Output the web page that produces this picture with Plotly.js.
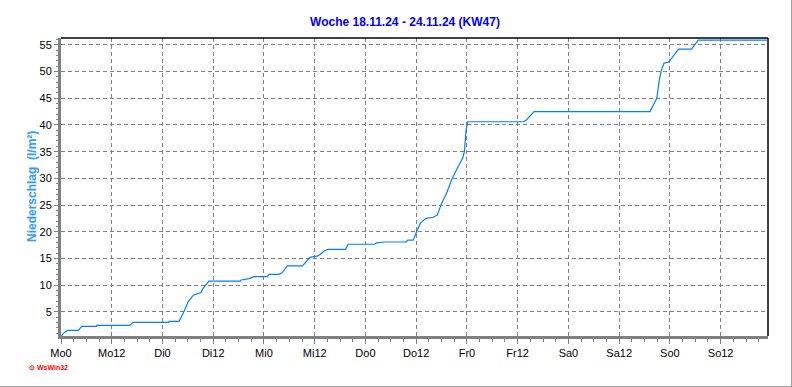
<!DOCTYPE html>
<html><head><meta charset="utf-8">
<script src="https://cdn.plot.ly/plotly-3.0.1.min.js"></script>
<style>
html,body{margin:0;padding:0;background:#fff;}
#wrap{position:relative;width:792px;height:387px;overflow:hidden;}
#chart{width:792px;height:387px;}
#frame{position:absolute;left:0;top:0;width:791px;height:386px;border-right:1px solid #a0a0a0;border-bottom:1px solid #a0a0a0;pointer-events:none;}
</style></head>
<body><div id="wrap"><div id="chart"></div><div id="frame"></div></div>
<script>
const hours = [0,0.5,1.5,4.1,4.9,8.4,8.5,16.3,17.0,25.4,25.6,27.9,28.9,30.1,31.3,33.1,33.6,34.7,35.0,42.4,42.6,44.5,45.6,48.8,49.2,51.5,52.3,53.5,57.1,58.9,60.8,62.4,63.2,67.3,67.9,74.2,74.6,76.6,81.6,82.0,83.3,84.1,85.0,86.3,88.0,89.0,90.0,91.2,92.4,93.6,94.4,95.0,95.4,95.6,95.8,96.2,109.3,110.0,111.9,139.3,140.1,140.9,141.5,141.9,142.6,143.6,144.4,145.2,146.0,149.1,149.9,150.7,166.9];
const rain = [0.3,0.9,1.5,1.5,2.27,2.27,2.45,2.45,3.0,3.0,3.2,3.2,4.7,6.9,8.1,8.6,9.4,10.6,10.75,10.75,10.95,11.2,11.57,11.57,12.0,12.0,12.3,13.6,13.6,15.2,15.45,16.45,16.7,16.7,17.65,17.65,17.9,18.07,18.07,18.4,18.4,20.0,21.6,22.5,22.7,23.1,25.3,27.2,29.8,31.7,32.8,33.8,35.0,36.6,39.1,40.6,40.6,40.9,42.5,42.5,43.75,45.0,48.4,50.0,51.6,51.75,52.5,53.4,54.2,54.2,55.0,55.9,55.9];
const xTickVals = [0,12,24,36,48,60,72,84,96,108,120,132,144,156];
const xTickText = ["Mo0","Mo12","Di0","Di12","Mi0","Mi12","Do0","Do12","Fr0","Fr12","Sa0","Sa12","So0","So12"];
const yTickVals = [5,10,15,20,25,30,35,40,45,50,55];
const titleText = "Woche 18.11.24 - 24.11.24 (KW47)";
const yTitleText = "Niederschlag  (l/m²)";

const font = "Liberation Sans, Arial, sans-serif";
Plotly.newPlot('chart', [{
  x: hours, y: rain, type: 'scatter', mode: 'lines',
  line: {color: '#0080ff', width: 1.2, shape: 'linear'},
  hoverinfo: 'skip'
}], {
  width: 792, height: 387,
  margin: {l: 61, r: 24, t: 38, b: 51},
  paper_bgcolor: '#fff', plot_bgcolor: '#fff',
  showlegend: false,
  title: {text: '<b>' + titleText + '</b>', x: 405/792, xref: 'container', xanchor: 'center', y: 1 - 22/387, yref: 'container', yanchor: 'middle',
          font: {family: font, size: 12, color: '#0000ff'}},
  xaxis: {range: [0, 167.2], tickvals: xTickVals, ticktext: xTickText, ticks: 'outside', ticklen: 5, tickwidth: 1, tickcolor: '#808080',
          showgrid: true, gridcolor: '#808080', griddash: '4px,3px', gridwidth: 1, zeroline: false,
          showline: true, linecolor: '#808080', linewidth: 3,
          minor: {dtick: 3, tick0: 0, ticks: 'outside', ticklen: 3, tickcolor: '#808080', showgrid: false},
          tickfont: {family: font, size: 11, color: '#000'}, fixedrange: true},
  yaxis: {range: [0.45, 56.3], tickvals: yTickVals, ticks: 'outside', ticklen: 4, tickwidth: 1, tickcolor: '#808080',
          showgrid: true, gridcolor: '#808080', griddash: '4px,3px', gridwidth: 1, zeroline: false,
          showline: true, linecolor: '#808080', linewidth: 3,
          minor: {dtick: 1, tick0: 0, ticks: 'outside', ticklen: 2, tickcolor: '#808080', showgrid: false},
          tickfont: {family: font, size: 11, color: '#000'}, fixedrange: true},
  shapes: [
    {type: 'line', xref: 'paper', yref: 'paper', x0: 0, x1: 1, y0: 1, y1: 1, line: {color: '#000', width: 1.5}},
    {type: 'line', xref: 'paper', yref: 'paper', x0: 1, x1: 1, y0: 0, y1: 1, line: {color: '#000', width: 1.5}}
  ],
  annotations: [
    {text: '<b>' + yTitleText + '</b>', xref: 'paper', yref: 'paper', x: (32-61)/707, y: 0.5, textangle: -90, showarrow: false,
     xanchor: 'center', yanchor: 'middle', font: {family: font, size: 12, color: '#3399ff'}},
    {text: '<b>⊙ WsWin32</b>', xref: 'paper', yref: 'paper', x: (27-61)/707, y: -(367-336)/298, xanchor: 'left', yanchor: 'middle', showarrow: false,
     font: {family: font, size: 7, color: '#ff0000'}}
  ]
}, {staticPlot: true, displayModeBar: false});
</script></body></html>
